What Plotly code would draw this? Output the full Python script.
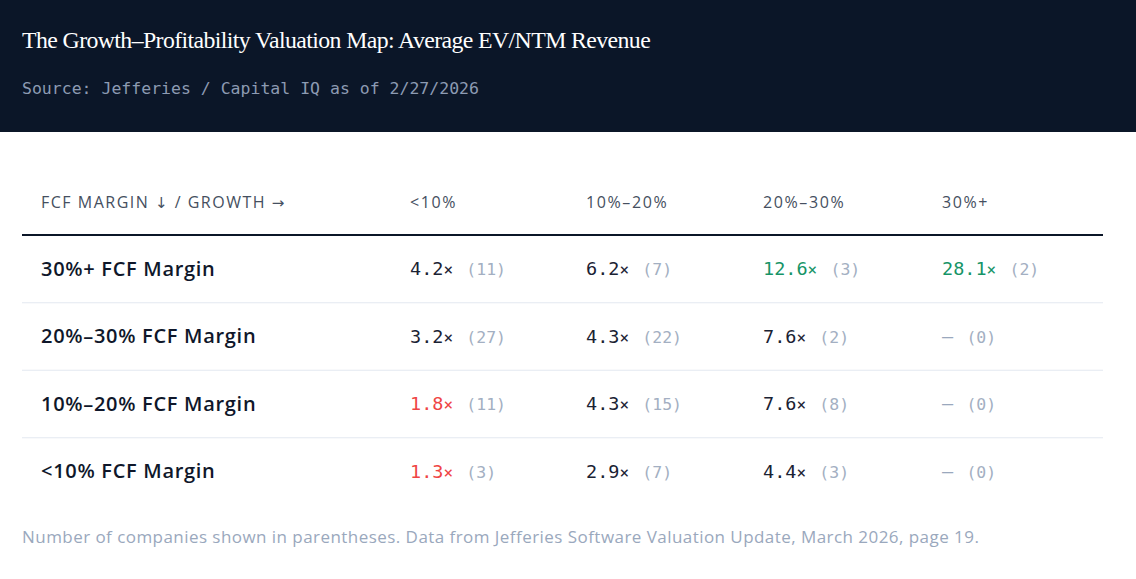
import plotly.graph_objects as go

# ---------------- data ----------------
title_text = "The Growth\u2013Profitability Valuation Map: Average EV/NTM Revenue"
source_text = "Source: Jefferies / Capital IQ as of 2/27/2026"
corner_parts = ["FCF MARGIN ", "\u2193", " / GROWTH ", "\u2192"]
growth_labels = ["<10%", "10%\u201320%", "20%\u201330%", "30%+"]
margin_labels = ["30%+ FCF Margin", "20%\u201330% FCF Margin", "10%\u201320% FCF Margin", "<10% FCF Margin"]
multiples = [
    [4.2, 6.2, 12.6, 28.1],
    [3.2, 4.3, 7.6, None],
    [1.8, 4.3, 7.6, None],
    [1.3, 2.9, 4.4, None],
]
counts = [
    [11, 7, 3, 2],
    [27, 22, 2, 0],
    [11, 15, 8, 0],
    [3, 7, 3, 0],
]
footnote = ("Number of companies shown in parentheses. Data from Jefferies Software "
            "Valuation Update, March 2026, page 19.")

# ---------------- layout constants ----------------
W, H = 1136, 579
BAND_H = 132
NAVY = "#0b1628"
TABLE_L, TABLE_R = 22, 1103
LABEL_X = 41
COL_X = [410, 586, 763, 942]
HEADER_Y = 204
HEADER_LINE_Y = 235
ROW_Y0, ROW_STEP = 269, 67.5
TEXT_DY = 1.5
GREEN, RED, DARK = "#169467", "#ef4444", "#1a2233"
GREY_CNT = "#a3afc2"
SANS = "'Open Sans', 'Noto Sans', sans-serif"
MONO = "'DejaVu Sans Mono', 'Liberation Mono', monospace"


def esc(s):
    return s.replace("&", "&amp;").replace("<", "&lt;").replace(">", "&gt;")


def spaced(s, px):
    return f"<span style='letter-spacing:{px}px'>{esc(s)}</span>"


def corner_text(parts, px):
    out = ""
    for p in parts:
        if p in ("\u2193", "\u2192"):
            out += f"<span style='font-family:DejaVu Sans;font-size:15px;letter-spacing:{px}px'>{p}</span>"
        else:
            out += spaced(p, px)
    return out


row_y = [ROW_Y0 + i * ROW_STEP for i in range(len(margin_labels))]
text_y = [y + TEXT_DY for y in row_y]

fig = go.Figure()

# header band
fig.add_shape(type="rect", x0=0, x1=W, y0=0, y1=BAND_H, fillcolor=NAVY,
              line_width=0, layer="below")

# title & source
fig.add_trace(go.Scatter(x=[22], y=[42], mode="text", text=[spaced(title_text, -0.6)],
                         textposition="middle right",
                         textfont=dict(family="'Liberation Serif', serif", size=23.8, color="#ffffff"),
                         hoverinfo="skip", showlegend=False))
fig.add_trace(go.Scatter(x=[22], y=[90], mode="text", text=[esc(source_text)],
                         textposition="middle right",
                         textfont=dict(family=MONO, size=16.5, color="#8d9bb3"),
                         hoverinfo="skip", showlegend=False))

# column headers
fig.add_trace(go.Scatter(x=[LABEL_X] + COL_X, y=[HEADER_Y] * (1 + len(COL_X)), mode="text",
                         text=[corner_text(corner_parts, 1.5)] + [spaced(g, 1.6) for g in growth_labels],
                         textposition="middle right",
                         textfont=dict(family=SANS, size=16, color="#454f60", weight=500),
                         hoverinfo="skip", showlegend=False))

# header rule
fig.add_shape(type="line", x0=TABLE_L, x1=TABLE_R, y0=HEADER_LINE_Y, y1=HEADER_LINE_Y,
              line=dict(color=NAVY, width=2.2))

# row separators
for i in range(len(margin_labels) - 1):
    ys = (row_y[i] + row_y[i + 1]) / 2
    fig.add_shape(type="line", x0=TABLE_L, x1=TABLE_R, y0=ys, y1=ys,
                  line=dict(color="#e3e8f0", width=1.2))

# row labels
fig.add_trace(go.Scatter(x=[LABEL_X] * len(margin_labels), y=text_y, mode="text",
                         text=[spaced(m, 0.7) for m in margin_labels], textposition="middle right",
                         textfont=dict(family=SANS, size=20, color="#0f172a", weight=600),
                         hoverinfo="skip", showlegend=False))

# value cells
xs, ys, texts = [], [], []
for i, row in enumerate(multiples):
    for j, v in enumerate(row):
        n = counts[i][j]
        cnt = f"<span style='color:{GREY_CNT};font-size:16.5px'>({n})</span>"
        if v is None:
            t = f"<span style='color:#9aa8bd'>\u2014</span><span style='font-size:22px'> </span>" + cnt
        else:
            c = GREEN if v >= 10 else (RED if v < 2 else DARK)
            t = (f"<span style='color:{c}'>{v:.1f}</span>"
                 f"<span style='color:{c};font-size:16px'>\u00d7</span>"
                 f"<span style='font-size:22px'> </span>" + cnt)
        xs.append(COL_X[j])
        ys.append(text_y[i])
        texts.append(t)
fig.add_trace(go.Scatter(x=xs, y=ys, mode="text", text=texts, textposition="middle right",
                         textfont=dict(family=MONO, size=18.5, color=DARK),
                         hoverinfo="skip", showlegend=False))

# footnote
fig.add_trace(go.Scatter(x=[22], y=[539], mode="text", text=[spaced(footnote, 0.45)],
                         textposition="middle right",
                         textfont=dict(family=SANS, size=17, color="#9aa8bd"),
                         hoverinfo="skip", showlegend=False))

fig.update_layout(
    width=W, height=H, autosize=False,
    margin=dict(l=0, r=0, t=0, b=0),
    paper_bgcolor="#ffffff", plot_bgcolor="#ffffff",
    xaxis=dict(range=[0, W], visible=False, fixedrange=True),
    yaxis=dict(range=[H, 0], visible=False, fixedrange=True),
    showlegend=False,
)

fig.write_html("out.html", config={"displayModeBar": False, "responsive": False},
               post_script="document.body.style.margin='0';document.body.style.overflow='hidden';")
